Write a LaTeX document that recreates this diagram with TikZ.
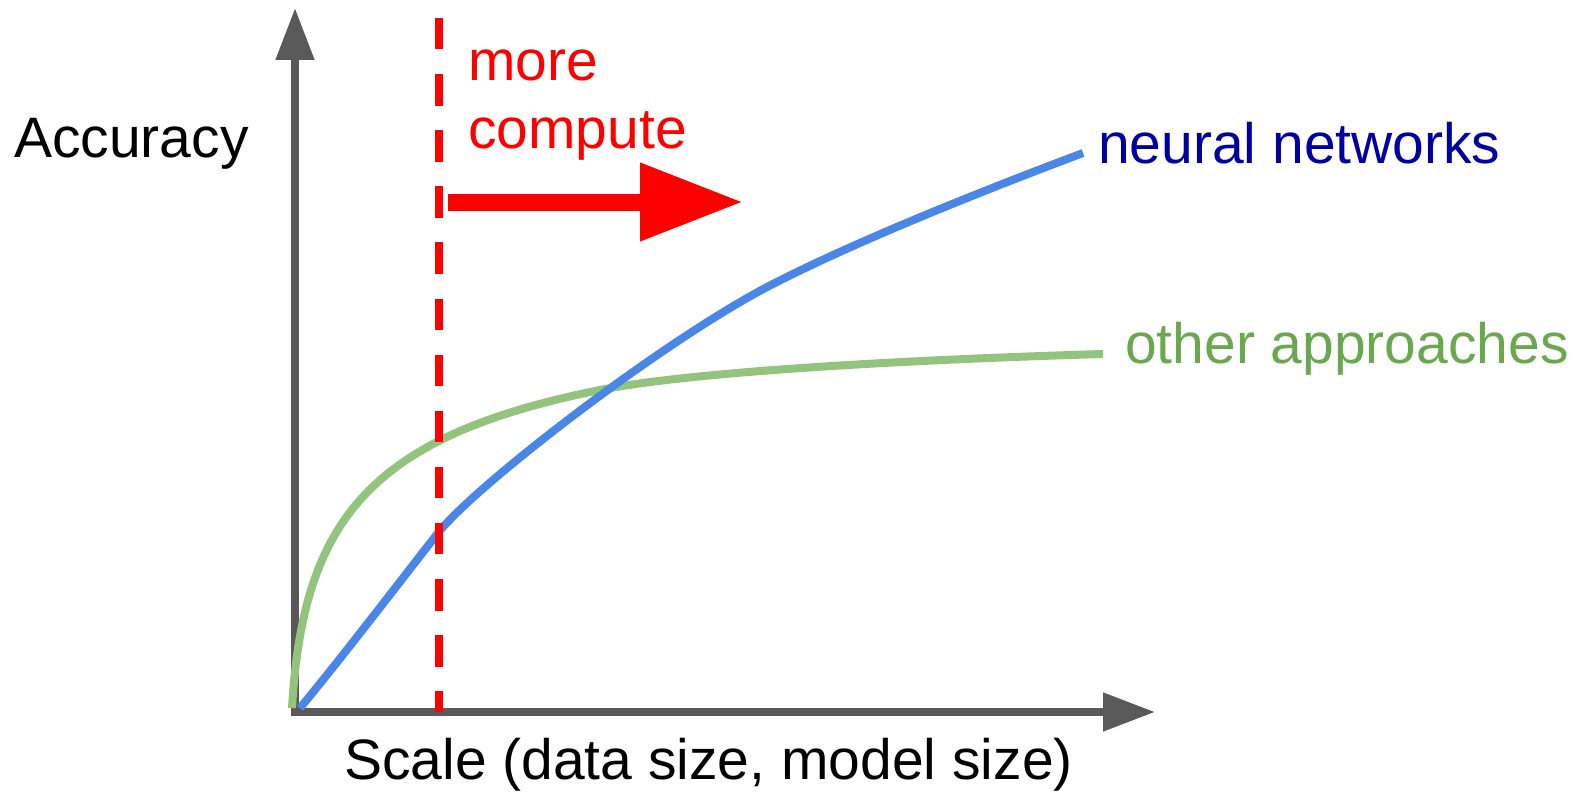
\documentclass[tikz,border=0pt]{standalone}
\usepackage{fontspec}
\setmainfont{Liberation Sans}
\usetikzlibrary{arrows.meta}

\definecolor{axisgray}{HTML}{595959}
\definecolor{nnblue}{HTML}{4A86E8}
\definecolor{nntext}{HTML}{0000A0}
\definecolor{othergreen}{HTML}{93C47D}
\definecolor{othertext}{HTML}{6AA84F}
\definecolor{computered}{HTML}{FF0000}

\tikzset{
  axis/.style={draw=axisgray, line width=8pt, {Triangle[length=52pt,width=37pt]}-{Triangle[length=52pt,width=37pt]}},
  curve/.style={line width=8pt, line join=round},
  bigarrow/.style={draw=computered, line width=17pt, -{Triangle[length=103pt,width=74pt]}},
  txt/.style={font=\fontsize{57}{68}\selectfont, inner sep=0pt, anchor=base west}
}

\begin{document}
\begin{tikzpicture}[x=1pt, y=-1pt]

  \useasboundingbox (0,0) rectangle (1586,792);

  % axes
  \coordinate (ytip) at (295,8);
  \coordinate (origin) at (295,712);
  \coordinate (xtip) at (1155,712);
  \draw[axis] (ytip) -- (origin) -- (xtip);

  % other approaches
  \draw[curve, othergreen] (292,708) .. controls (303,520) and (370,436) .. (600,390)
    .. controls (690,372) and (900,360) .. (1103,354);

  % neural networks
  \draw[curve, nnblue] (300,708) .. controls (340,660) and (405,575) .. (438,533)
    .. controls (475,486) and (660,343) .. (769,286)
    .. controls (858,240) and (990,188) .. (1083,153);

  % more compute
  \coordinate (cuttop) at (439,18);
  \coordinate (cutbottom) at (439,712);
  \draw[computered, line width=8pt, dash pattern=on 31.5pt off 24.6pt] (cuttop) -- (cutbottom);
  \coordinate (arrowstart) at (448,202);
  \coordinate (arrowtip) at (743,202);
  \draw[bigarrow] (arrowstart) -- (arrowtip);

  % labels
  \node[txt] (yname) at (14,157) {Accuracy};
  \node[txt] (xname) at (344,779) {Scale (data size, model size)};
  \node[txt, text=computered, align=left] (computename) at (468,148) {more\\compute};
  \node[txt, text=nntext] (nnname) at (1098,163) {neural networks};
  \node[txt, text=othertext] (othername) at (1125,363) {other approaches};

\end{tikzpicture}
\end{document}
